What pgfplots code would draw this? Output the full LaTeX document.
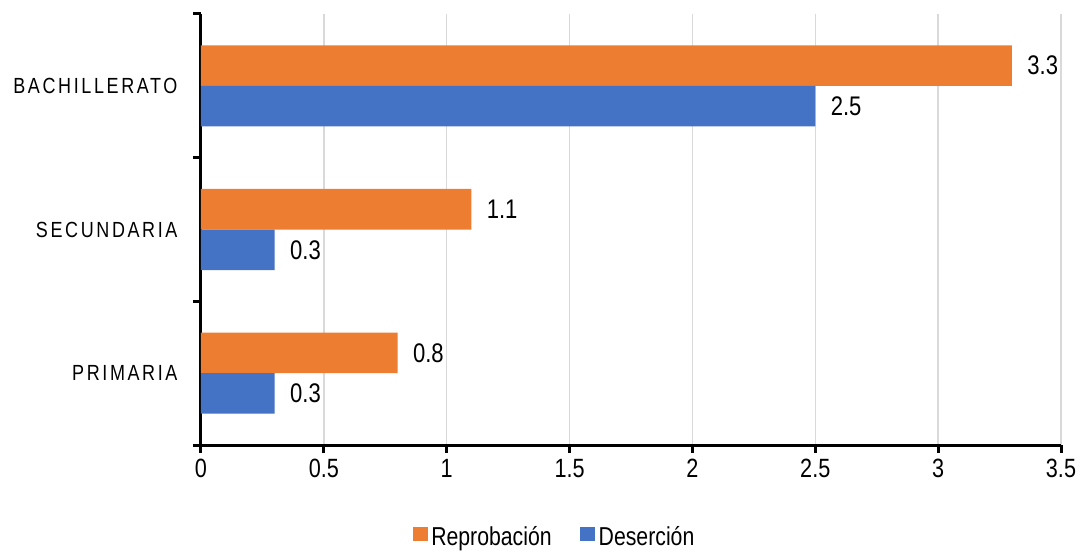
\documentclass[border=0pt]{standalone}
\usepackage{fontspec}
\setmainfont{Liberation Sans}[FakeStretch=0.82]
\usepackage{pgfplots}
\pgfplotsset{compat=1.18}
\definecolor{cOrange}{HTML}{ED7D31}
\definecolor{cBlue}{HTML}{4472C4}
\definecolor{cGrid}{HTML}{D9D9D9}
\begin{document}
\begin{tikzpicture}
\begin{axis}[
  scale only axis,
  width=860bp, height=431bp,
  xbar, bar width=40.5bp,
  xmin=0, xmax=3.5,
  ymin=-0.5, ymax=2.5,
  axis lines*=left,
  axis line style={line width=3bp, black},
  xtick={0,0.5,...,3.5},
  ytick={-0.5,0.5,1.5,2.5},
  yticklabels={},
  extra y ticks={0,1,2},
  extra y tick labels={PRIMARIA,SECUNDARIA,BACHILLERATO},
  extra y tick style={major tick length=0pt, yticklabel style={font=\fontsize{22}{24}\selectfont\addfontfeature{LetterSpace=12}, xshift=-20bp}},
  tick align=outside,
  major tick length=8bp,
  tick style={line width=3bp, black},
  xmajorgrids,
  grid style={line width=1.5bp, cGrid},
  xticklabel style={font=\fontsize{26.5}{28}\selectfont, yshift=-3bp},
  /pgf/number format/assume math mode=true,
  nodes near coords,
  nodes near coords style={font=\fontsize{27}{29}\selectfont, anchor=west, xshift=12bp, /pgf/number format/.cd, fixed, precision=1, assume math mode=true},
  legend style={draw=none, at={(0.412,-0.213)}, anchor=center, font=\fontsize{26}{28}\selectfont, legend columns=2, nodes={inner xsep=3.5bp}, /tikz/every even column/.append style={column sep=25bp}},
  legend image code/.code={\fill[#1] (0bp,-4bp) rectangle (15bp,10bp);},
  clip=false,
]
\addplot[fill=cOrange, draw=none, bar shift=20.25bp] coordinates {(0.8,0) (1.1,1) (3.3,2)};
\addplot[fill=cBlue, draw=none, bar shift=-20.25bp] coordinates {(0.3,0) (0.3,1) (2.5,2)};
\legend{Reprobación, Deserción}
\coordinate (o) at (rel axis cs:0,0);
\end{axis}
\path ([xshift=-201bp,yshift=-107bp]o) rectangle ([xshift=882bp,yshift=445bp]o);
\end{tikzpicture}
\end{document}
